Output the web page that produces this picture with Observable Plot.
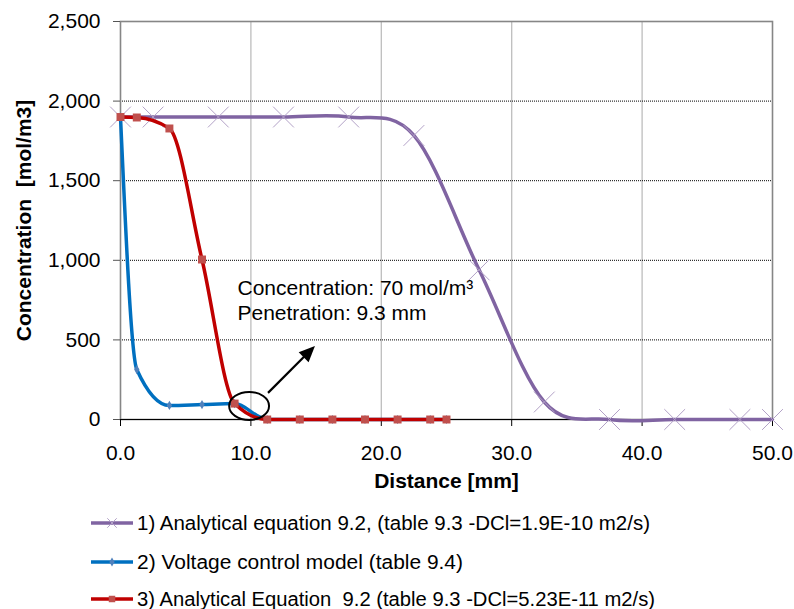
<!DOCTYPE html>
<html><head><meta charset="utf-8">
<script src="https://cdn.jsdelivr.net/npm/d3@7"></script>
<script src="https://cdn.jsdelivr.net/npm/@observablehq/plot@0.6"></script>
<style>
body{margin:0;background:#fff;}
#chart{width:794px;font-family:'Liberation Sans',Arial,sans-serif;}
#chart svg{display:block;}
</style>
</head><body><div id="chart"></div>
<script>
// ---- data ----
const xTicks = [0, 10, 20, 30, 40, 50];
const yTicks = [0, 500, 1000, 1500, 2000, 2500];
const yGrid = [500, 1000, 1500, 2000];
const xGrid = [10, 20, 30, 40];

const purpleX = [0, 2.5, 7.5, 12.5, 17.5, 22.5, 27.5, 32.5, 37.5, 42.5, 47.5, 50];
const purpleY = [1900, 1900, 1900, 1900, 1900, 1784, 940, 110, 0, 0, 0, 0];

const blueX = [0, 1.25, 3.75, 6.25, 8.75, 11.25, 13.75, 16.25, 18.75, 21.25, 23.75, 25];
const blueY = [1900, 314, 88, 94, 100, 0, 0, 0, 0, 0, 0, 0];

const redX = [0, 1.25, 3.75, 6.25, 8.75, 11.25, 13.75, 16.25, 18.75, 21.25, 23.75, 25];
const redY = [1900, 1897, 1828, 1005, 100, 0, 0, 0, 0, 0, 0, 0];

const seriesNames = [
  "1) Analytical equation 9.2, (table 9.3 -DCl=1.9E-10 m2/s)",
  "2) Voltage control model (table 9.4)",
  "3) Analytical Equation  9.2 (table 9.3 -DCl=5.23E-11 m2/s)"
];
const xTitle = "Distance [mm]";
const yTitle = "Concentration\u00a0 [mol/m3]";
const annotLines = ["Concentration: 70 mol/m\u00b3", "Penetration: 9.3 mm"];
const annotX = [8.97, 8.97];
const annotY = [827, 670];
const circleAt = {x: 9.9, y: 82, rx: 1.53, ry: 88};
const arrowFrom = {x: 11.35, y: 164};
const arrowTo = {x: 14.95, y: 459};

// ---- build rows ----
const rows = (xs, ys) => xs.map((x, i) => ({x, y: ys[i]}));
const purple = rows(purpleX, purpleY);
const blue = rows(blueX, blueY);
const red = rows(redX, redY);

const C = {purple: "#8064A2", purpleM: "#B3A2C7", blue: "#0070C0", blueM: "#4F81BD", red: "#C00000", redM: "#C0504D"};
const FONT = "'Liberation Sans', Arial, sans-serif";

const plot = Plot.plot({
  width: 794, height: 500,
  marginLeft: 120, marginRight: 22, marginTop: 21, marginBottom: 81,
  style: {fontFamily: FONT, fontSize: "21px", color: "black", background: "white", overflow: "visible"},
  x: {domain: [0, 50]},
  y: {domain: [0, 2500]},
  marks: [
    Plot.ruleX(xGrid, {stroke: "#bdbdbd", strokeWidth: 1.3}),
    Plot.ruleY(yGrid, {stroke: "black", strokeDasharray: "1,1", strokeWidth: 1}),
    Plot.frame({stroke: "#868686", strokeWidth: 1.6}),
    Plot.ruleY([0], {stroke: "black", strokeWidth: 1.2}),
    Plot.axisY({ticks: yTicks, tickFormat: d3.format(","), tickSize: 7, tickPadding: 13, label: null, stroke: "#555"}),
    Plot.axisX({ticks: xTicks, tickFormat: d3.format(".1f"), tickSize: 7, tickPadding: 19, label: null, stroke: "black"}),
    Plot.text([xTitle], {frameAnchor: "bottom", dy: 62, lineAnchor: "middle", textAnchor: "middle", text: d => d, fontWeight: "bold", fontSize: 21}),
    Plot.text([yTitle], {frameAnchor: "left", dx: -96, rotate: -90, textAnchor: "middle", lineAnchor: "middle", text: d => d, fontWeight: "bold", fontSize: 21}),
    // series 1
    Plot.line(purple, {x: "x", y: "y", curve: "cardinal", stroke: C.purple, strokeWidth: 3.5, strokeLinejoin: "round"}),
    Plot.dot(purple, {x: "x", y: "y", symbol: "times", r: 9.5, stroke: C.purpleM, strokeWidth: 1, fill: "none"}),
    // series 2
    Plot.line(blue, {x: "x", y: "y", curve: "monotone-x", stroke: C.blue, strokeWidth: 3.5, strokeLinejoin: "round"}),
    Plot.dot(blue, {x: "x", y: "y", symbol: "diamond", r: 2.8, fill: C.blueM, stroke: "none"}),
    // series 3
    Plot.line(red, {x: "x", y: "y", curve: "monotone-x", stroke: C.red, strokeWidth: 3.5, strokeLinejoin: "round"}),
    Plot.dot(red, {x: "x", y: "y", symbol: "square", r: 4.5, fill: C.redM, stroke: "none"}),
    // annotation text
    Plot.text(annotLines, {x: (d, i) => annotX[i], y: (d, i) => annotY[i], text: d => d, textAnchor: "start", fontSize: 21})
  ]
});

// annotation ellipse and arrow, positioned with the plot's own scales
{
  const sx = plot.scale("x"), sy = plot.scale("y");
  const svg = d3.select(plot);
  const g = svg.append("g");
  const cx = sx.apply(circleAt.x), cy = sy.apply(circleAt.y);
  const rx = Math.abs(sx.apply(circleAt.x + circleAt.rx) - cx);
  const ry = Math.abs(sy.apply(circleAt.y + circleAt.ry) - cy);
  g.append("ellipse").attr("cx", cx).attr("cy", cy).attr("rx", rx).attr("ry", ry)
    .attr("fill", "none").attr("stroke", "black").attr("stroke-width", 2);
  const x1 = sx.apply(arrowFrom.x), y1 = sy.apply(arrowFrom.y);
  const x2 = sx.apply(arrowTo.x), y2 = sy.apply(arrowTo.y);
  const dx = x2 - x1, dy = y2 - y1, L = Math.hypot(dx, dy);
  const ux = dx / L, uy = dy / L, hl = 16, hw = 7;
  const bx = x2 - ux * hl, by = y2 - uy * hl;
  g.append("line").attr("x1", x1).attr("y1", y1).attr("x2", bx + ux * 2).attr("y2", by + uy * 2)
    .attr("stroke", "black").attr("stroke-width", 2.2);
  g.append("path")
    .attr("d", `M${x2},${y2}L${bx - uy * hw},${by + ux * hw}L${bx + uy * hw},${by - ux * hw}Z`)
    .attr("fill", "black");
}

document.getElementById("chart").appendChild(plot);

// ---- legend below the svg ----
{
  const legend = d3.create("svg").attr("width", 794).attr("height", 109)
    .style("font-family", FONT).style("background", "white");
  const items = [
    {name: seriesNames[0], line: C.purple, m: C.purpleM, sym: d3.symbolTimes, size: 60, kind: "stroke", y: 23, w: 513},
    {name: seriesNames[1], line: C.blue, m: C.blueM, sym: d3.symbolDiamond, size: 24, kind: "fill", y: 62, w: 326},
    {name: seriesNames[2], line: C.red, m: C.redM, sym: d3.symbolSquare, size: 42, kind: "fill", y: 99, w: 518}
  ];
  for (const it of items) {
    const g = legend.append("g");
    g.append("line").attr("x1", 91).attr("x2", 133).attr("y1", it.y).attr("y2", it.y)
      .attr("stroke", it.line).attr("stroke-width", 3.5);
    const p = g.append("path").attr("d", d3.symbol(it.sym, it.size)()).attr("transform", `translate(112,${it.y})`);
    if (it.kind === "stroke") p.attr("fill", "none").attr("stroke", it.m).attr("stroke-width", 1);
    else p.attr("fill", it.m);
    g.append("text").attr("x", 137).attr("y", it.y).attr("dy", "0.35em")
      .attr("font-size", 20).attr("fill", "black")
      .attr("textLength", it.w).attr("lengthAdjust", "spacingAndGlyphs")
      .style("white-space", "pre")
      .text(it.name);
  }
  document.getElementById("chart").appendChild(legend.node());
}
</script>
</body></html>
